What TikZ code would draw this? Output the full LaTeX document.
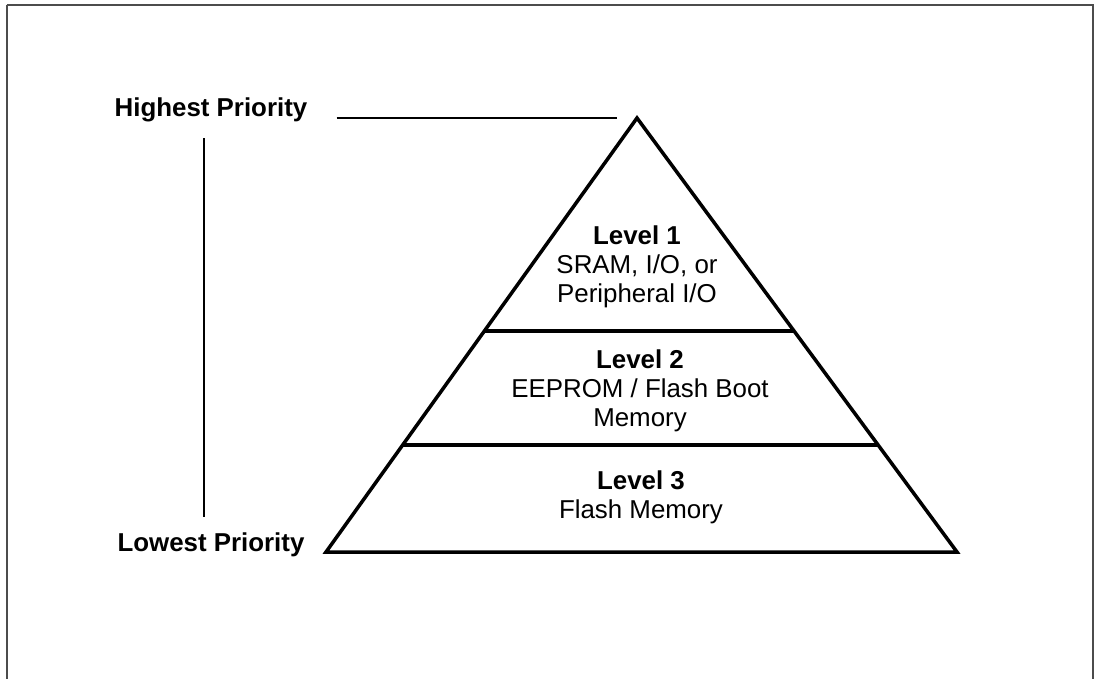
\documentclass[tikz,border=0pt]{standalone}
\usepackage{fontspec}
\setmainfont{Liberation Sans}
\usetikzlibrary{calc}
\tikzstyle{prio}=[inner sep=0pt,font=\fontsize{18.4}{20.6}\selectfont\bfseries]
\tikzstyle{tier}=[align=center,inner sep=0pt,font=\fontsize{18.4}{20.6}\selectfont]
\tikzstyle{edge} = [draw,line width=2.5pt,line join=miter]
\tikzstyle{rule} = [draw,line width=1.4pt]

\begin{document}
\begin{tikzpicture}[x=0.025cm,y=-0.025cm]
        \useasboundingbox (0,0) rectangle (1097,679);
        % frame
        \draw[black!70,line width=1.3pt] (6.5,5) -- (1093.5,5);
        \draw[black!70,line width=0.9pt] (7,5) -- (7,679);
        \draw[black!70,line width=0.9pt] (1093,5) -- (1093,679);
        % pyramid
        \coordinate (top) at (637,118);
        \coordinate (bl) at (326,552);
        \coordinate (br) at (957,552);
        \coordinate (l1) at ($(top)!0.4908!(bl)$);
        \coordinate (r1) at ($(top)!0.4908!(br)$);
        \coordinate (l2) at ($(top)!0.7535!(bl)$);
        \coordinate (r2) at ($(top)!0.7535!(br)$);
        \path[edge] (top) -- (br) -- (bl) -- cycle;
        \path[edge] (l1) -- (r1);
        \path[edge] (l2) -- (r2);
        \node[tier] (lvl1) at (637,267) {\textbf{Level 1}\\SRAM, I/O, or\\Peripheral I/O};
        \node[tier] (lvl2) at (640,391) {\textbf{Level 2}\\EEPROM / Flash Boot\\Memory};
        \node[tier] (lvl3) at (641,497) {\textbf{Level 3}\\Flash Memory};
        % priority scale
        \node[prio] (hp) at (211,110) {Highest Priority};
        \node[prio] (lp) at (211,545) {Lowest Priority};
        \coordinate (hpend) at (617,118);
        \coordinate (vtop) at (204,138);
        \coordinate (vbot) at (204,517);
        \path[rule] (hp.east |- hpend) ++(29,0) -- (hpend);
        \path[edge,line width=2pt] (vtop) -- (vbot);
    \end{tikzpicture}
\end{document}
